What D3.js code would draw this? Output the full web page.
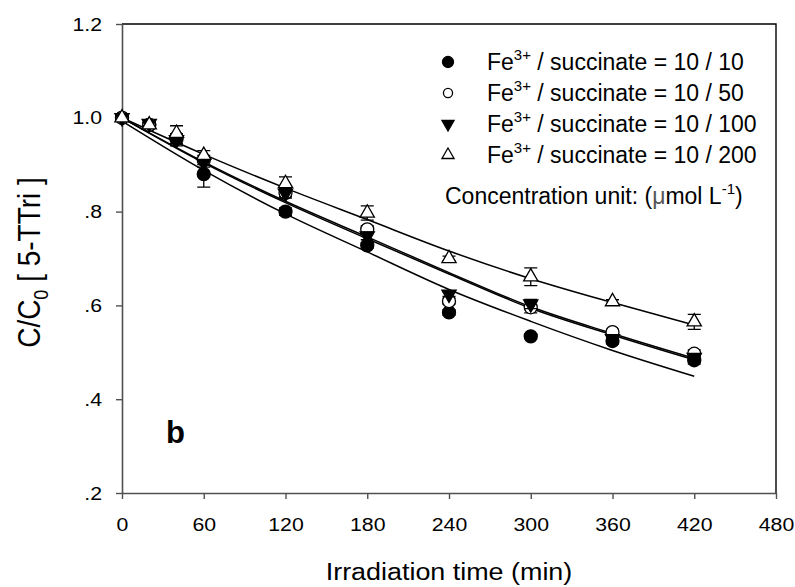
<!DOCTYPE html>
<html lang="en">
<head>
    <meta charset="UTF-8">
    <title>C/C0 vs irradiation time</title>
    <script src="https://d3js.org/d3.v7.min.js"></script>
    <style>
        body { margin: 0; background: #fff; }
        svg text { font-family: "Liberation Sans", Arial, sans-serif; fill: #000; white-space: pre; }
    </style>
</head>
<body>
    <div id="chart"></div>
    <script>
        // measured points (time in min)
        const times = [0, 20, 40, 60, 120, 180, 240, 300, 360, 420];
        const fe10_10  = [1.0, 0.985, 0.955, 0.880, 0.800, 0.728, 0.585, 0.534, 0.524, 0.483];
        const fe10_50  = [1.0, 0.985, 0.958, 0.910, 0.840, 0.762, 0.609, 0.596, 0.543, 0.497];
        const fe10_100 = [1.0, 0.988, 0.953, 0.905, 0.839, 0.748, 0.624, 0.603, 0.529, 0.489];
        const fe10_200 = [1.0, 0.985, 0.967, 0.920, 0.860, 0.797, 0.700, 0.661, 0.608, 0.565];
        // error bars (+/-)
        const err10_10  = [0, 0.005, 0.010, 0.028, 0.008, 0.006, 0.006, 0.005, 0.006, 0.008];
        const err10_50  = [0, 0.005, 0.008, 0.010, 0.008, 0.008, 0.006, 0.012, 0.006, 0.008];
        const err10_100 = [0, 0.005, 0.013, 0.010, 0.010, 0.008, 0.005, 0.010, 0.006, 0.008];
        const err10_200 = [0, 0.005, 0.016, 0.010, 0.014, 0.015, 0.005, 0.019, 0.004, 0.016];

        // fitted curves
        const fitTimes = [0, 60, 120, 180, 240, 300, 360, 420];
        const fit10_10  = [0.993, 0.888, 0.795, 0.714, 0.634, 0.566, 0.504, 0.449];
        const fit10_50  = [1.0, 0.906, 0.822, 0.746, 0.670, 0.597, 0.540, 0.487];
        const fit10_100 = [1.0, 0.904, 0.819, 0.742, 0.667, 0.594, 0.537, 0.484];
        const fit10_200 = [1.0, 0.922, 0.850, 0.783, 0.716, 0.657, 0.606, 0.558];

        const xTicks = [0, 60, 120, 180, 240, 300, 360, 420, 480];
        const yTicks = [0.2, 0.4, 0.6, 0.8, 1.0, 1.2];
        const yTickLabels = [".2", ".4", ".6", ".8", "1.0", "1.2"];
        const legendRatios = ["10 / 10", "10 / 50", "10 / 100", "10 / 200"];

        const width = 795, height = 587;
        const margin = { top: 24, right: 19, bottom: 94, left: 122 };
        const stretch = 1.12; // the original text is a bit wide

        const svg = d3.select("#chart").append("svg")
            .attr("width", width)
            .attr("height", height);

        const x = d3.scaleLinear().domain([0, 480]).range([margin.left, width - margin.right]);
        const y = d3.scaleLinear().domain([0.2, 1.2]).range([height - margin.bottom, margin.top]);

        const axisColor = "#505050";

        // top and right border
        svg.append("path")
            .attr("d", `M${x(0)},${y(1.2)}H${x(480)}V${y(0.2)}`)
            .attr("fill", "none").attr("stroke", "#000").attr("stroke-width", 1.4);

        const xAxis = svg.append("g")
            .attr("transform", `translate(0,${y(0.2)})`)
            .call(d3.axisBottom(x).tickValues(xTicks).tickSize(6).tickSizeOuter(0).tickPadding(19));
        const yAxis = svg.append("g")
            .attr("transform", `translate(${x(0)},0)`)
            .call(d3.axisLeft(y).tickValues(yTicks).tickSize(6).tickSizeOuter(0).tickPadding(14)
                .tickFormat((d, i) => yTickLabels[i]));

        [xAxis, yAxis].forEach(g => {
            g.select(".domain").attr("stroke", axisColor).attr("stroke-width", 1.6);
            g.selectAll(".tick line").attr("stroke", axisColor).attr("stroke-width", 1.4);
            g.selectAll(".tick text").attr("font-size", 19).attr("fill", "#000")
                .style("font-family", "'Liberation Sans', Arial, sans-serif");
        });
        xAxis.selectAll(".tick text").attr("transform", `scale(${stretch},1)`);
        yAxis.selectAll(".tick text").attr("x", -20 / stretch).attr("transform", `scale(${stretch},1)`);

        // fitted lines
        const line = d3.line()
            .x(d => x(d[0]))
            .y(d => y(d[1]))
            .curve(d3.curveMonotoneX);

        [fit10_10, fit10_50, fit10_100, fit10_200].forEach(fit => {
            svg.append("path")
                .attr("d", line(fitTimes.map((t, i) => [t, fit[i]])))
                .attr("fill", "none")
                .attr("stroke", "#000")
                .attr("stroke-width", 1.5);
        });

        const series = [
            { vals: fe10_10, err: err10_10, shape: "circle", fill: "#000" },
            { vals: fe10_50, err: err10_50, shape: "circle", fill: "#fff" },
            { vals: fe10_100, err: err10_100, shape: "down", fill: "#000" },
            { vals: fe10_200, err: err10_200, shape: "up", fill: "#fff" }
        ];

        const triangle = d3.symbol().type(d3.symbolTriangle).size(88);

        function drawMarker(g, shape, fill, cx, cy, scale) {
            if (shape === "circle") {
                g.append("circle")
                    .attr("cx", cx).attr("cy", cy).attr("r", 6.5 * scale)
                    .attr("fill", fill).attr("stroke", "#000").attr("stroke-width", 1.3);
            } else {
                g.append("path")
                    .attr("d", triangle())
                    .attr("transform", `translate(${cx},${cy}) scale(${scale}) rotate(${shape === "down" ? 180 : 0})`)
                    .attr("fill", fill).attr("stroke", "#000").attr("stroke-width", 1.3 / scale);
            }
        }

        const points = svg.append("g");
        series.forEach(s => {
            const g = points.append("g");
            times.forEach((t, i) => {
                const v = s.vals[i], e = s.err[i];
                if (e > 0) {
                    const px = x(t), y0 = y(v - e), y1 = y(v + e);
                    g.append("path")
                        .attr("d", `M${px},${y0}V${y1}M${px - 6.5},${y0}H${px + 6.5}M${px - 6.5},${y1}H${px + 6.5}`)
                        .attr("stroke", "#000").attr("stroke-width", 1.3).attr("fill", "none");
                }
                drawMarker(g, s.shape, s.fill, x(t), y(v), 1);
            });
        });

        // legend
        const legend = svg.append("g");
        const legX = 448, textX = 487, row0 = 70, rowStep = 31;
        series.forEach((s, i) => {
            const by = row0 + i * rowStep;
            drawMarker(legend, s.shape, s.fill, legX, by - 8, s.shape === "circle" ? (s.fill === "#000" ? 0.85 : 0.7) : 0.85);
            const t = legend.append("text").attr("x", textX).attr("y", by).attr("font-size", 23);
            t.append("tspan").text("Fe");
            t.append("tspan").attr("dy", -10).attr("font-size", 15).text("3+");
            t.append("tspan").attr("dy", 10).text(" / succinate = " + legendRatios[i]);
        });
        const unit = legend.append("text").attr("x", 445).attr("y", 204).attr("font-size", 23);
        unit.append("tspan").text("Concentration unit: (");
        unit.append("tspan").attr("fill", "#555").text("μ");
        unit.append("tspan").text("mol L");
        unit.append("tspan").attr("dy", -10).attr("font-size", 15).text("-1");
        unit.append("tspan").attr("dy", 10).text(")");

        // panel label
        svg.append("text")
            .attr("x", 166).attr("y", 443)
            .attr("font-size", 31).attr("font-weight", "bold")
            .text("b");

        // axis titles
        svg.append("text")
            .attr("transform", `translate(${(x(0) + x(480)) / 2},580) scale(1.17,1)`)
            .attr("text-anchor", "middle").attr("font-size", 23)
            .text("Irradiation time (min)");

        const yt = svg.append("text")
            .attr("transform", `translate(40,${(y(0.2) + y(1.2)) / 2 + 4}) scale(1.1,1) rotate(-90)`)
            .attr("text-anchor", "middle").attr("font-size", 28);
        yt.append("tspan").text("C/C");
        yt.append("tspan").attr("dy", 7).attr("font-size", 18).text("0");
        yt.append("tspan").attr("dy", -7).text(" [ 5-TTri ]");
    </script>
</body>
</html>
